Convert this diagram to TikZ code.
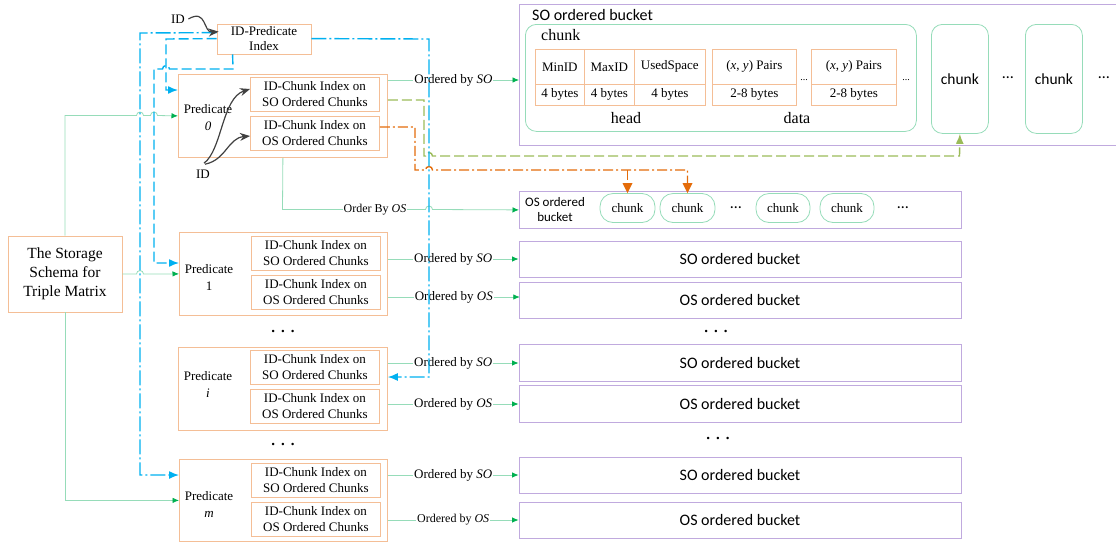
\documentclass[tikz,border=0pt]{standalone}
\usepackage{fontspec}
\setmainfont{Liberation Serif}
\newfontfamily\calibri{Carlito}
\usetikzlibrary{arrows.meta,calc}
\definecolor{obord}{RGB}{244,190,150}
\definecolor{pbord}{RGB}{192,170,222}
\definecolor{glc}{RGB}{150,220,185}
\definecolor{ghead}{RGB}{0,176,80}
\definecolor{blc}{RGB}{0,176,240}
\definecolor{olv}{RGB}{155,187,89}
\definecolor{orng}{RGB}{228,108,10}
\definecolor{dk}{RGB}{64,64,64}
\begin{document}
\begin{tikzpicture}[x=1pt,y=-1pt,font=\fontsize{13}{16}\selectfont]
\tikzset{
 obox/.style={draw=obord, line width=0.8pt, inner sep=0pt, align=center},
 cell/.style={draw=obord, line width=0.7pt, inner sep=0pt, anchor=north west, align=center},
 pbox/.style={draw=pbord, line width=0.8pt, inner sep=0pt, align=center, font=\calibri\fontsize{16}{19}\selectfont},
 gl/.style={draw=glc, line width=0.8pt},
 garr/.style={gl, -{Latex[length=6.5pt,width=5.5pt,color=ghead]}},
 bld/.style={draw=blc, line width=1.4pt, dash pattern=on 10pt off 4pt},
 bldd/.style={draw=blc, line width=1.4pt, dash pattern=on 15pt off 3pt on 2pt off 3pt},
 barr/.style={-{Latex[length=10pt,width=8pt]}},
 lbl/.style={fill=white, inner sep=1pt},
 olvd/.style={draw=olv, line width=1.4pt, dash pattern=on 10pt off 4pt, -{Latex[length=10pt,width=8pt]}},
 orgd/.style={draw=orng, line width=1.4pt, dash pattern=on 10pt off 3pt on 2pt off 3pt},
 idarr/.style={draw=dk, line width=1.2pt, -{Stealth[length=10pt,width=8pt]}},
 pill/.style={draw=glc, line width=0.8pt, rounded corners=13pt, minimum height=29pt, inner sep=0pt},
 chk/.style={draw=glc, line width=0.8pt, rounded corners=11pt, minimum width=57pt, minimum height=109pt, anchor=north west, inner sep=0pt, font=\calibri\fontsize{15.5}{18}\selectfont},
 dots/.style={font=\bfseries\fontsize{15}{18}\selectfont},
 sdots/.style={font=\calibri\fontsize{16}{18}\selectfont},
}
\useasboundingbox (0,0) rectangle (1116,542);

% ---------- left part ----------
\node[obox, minimum width=114pt, minimum height=76pt, font=\fontsize{15.5}{19}\selectfont] (store) at (65,274) {The Storage\\Schema for\\Triple Matrix};
\node[obox, minimum width=94pt, minimum height=30pt, font=\fontsize{13}{15}\selectfont] (idp) at (264,39) {ID-Predicate\\Index};

% predicate 0
\node[obox, minimum width=209pt, minimum height=83pt, anchor=north west] (p0) at (178,74) {};
\node[obox, minimum width=129pt, minimum height=34pt, anchor=north west] (p0so) at (250,77) {ID-Chunk Index on\\SO Ordered Chunks};
\node[obox, minimum width=129pt, minimum height=34pt, anchor=north west] (p0os) at (250,116) {ID-Chunk Index on\\OS Ordered Chunks};
\node[align=center, font=\fontsize{13}{17}\selectfont] (p0t) at (208,118) {Predicate\\\textit{0}};
% predicate 1
\node[obox, minimum width=208pt, minimum height=83pt, anchor=north west] (p1) at (179,232) {};
\node[obox, minimum width=129pt, minimum height=34pt, anchor=north west] (p1so) at (251,236) {ID-Chunk Index on\\SO Ordered Chunks};
\node[obox, minimum width=129pt, minimum height=34pt, anchor=north west] (p1os) at (251,275) {ID-Chunk Index on\\OS Ordered Chunks};
\node[align=center, font=\fontsize{13}{17}\selectfont] (p1t) at (209,277) {Predicate\\1};
% predicate i
\node[obox, minimum width=209pt, minimum height=83pt, anchor=north west] (pi) at (178,347) {};
\node[obox, minimum width=129pt, minimum height=34pt, anchor=north west] (piso) at (250,350) {ID-Chunk Index on\\SO Ordered Chunks};
\node[obox, minimum width=129pt, minimum height=34pt, anchor=north west] (pios) at (250,389) {ID-Chunk Index on\\OS Ordered Chunks};
\node[align=center, font=\fontsize{13}{17}\selectfont] (pit) at (208,384) {Predicate\\\textit{i}};
% predicate m
\node[obox, minimum width=208pt, minimum height=82pt, anchor=north west] (pm) at (179,459) {};
\node[obox, minimum width=129pt, minimum height=34pt, anchor=north west] (pmso) at (251,463) {ID-Chunk Index on\\SO Ordered Chunks};
\node[obox, minimum width=129pt, minimum height=34pt, anchor=north west] (pmos) at (251,502) {ID-Chunk Index on\\OS Ordered Chunks};
\node[align=center, font=\fontsize{13}{17}\selectfont] (pmt) at (209,504) {Predicate\\\textit{m}};

\node[dots] (dl1) at (283,331) {.\hspace{6pt}.\hspace{6pt}.};
\node[dots] (dl2) at (283,444) {.\hspace{6pt}.\hspace{6pt}.};

% ---------- right part ----------
\node[draw=pbord, line width=0.8pt, minimum width=601pt, minimum height=141pt, anchor=north west, inner sep=0pt] (sob) at (519,4) {};
\node[anchor=west, inner sep=0pt, font=\calibri\fontsize{16}{19}\selectfont] (sobt) at (532,15) {SO ordered bucket};
\node[draw=glc, line width=0.8pt, rounded corners=11pt, minimum width=391pt, minimum height=107pt, anchor=north west, inner sep=0pt] (bigc) at (525,24) {};
\node[anchor=west, inner sep=0pt, font=\fontsize{16}{19}\selectfont] (bigct) at (541,35) {chunk};
\node[cell, minimum width=49pt, minimum height=35pt] (c1) at (535,49) {MinID};
\node[cell, minimum width=50pt, minimum height=35pt] (c2) at (584,49) {MaxID};
\node[cell, minimum width=71pt, minimum height=35pt] (c3) at (634,49) {UsedSpace};
\node[cell, minimum width=49pt, minimum height=21pt] (c4) at (535,84) {4 bytes};
\node[cell, minimum width=50pt, minimum height=21pt] (c5) at (584,84) {4 bytes};
\node[cell, minimum width=71pt, minimum height=21pt] (c6) at (634,84) {4 bytes};
\node[cell, minimum width=84pt, minimum height=35pt] (d1) at (712,49) {(\textit{x}, \textit{y}) Pairs};
\node[cell, minimum width=84pt, minimum height=21pt] (d2) at (712,84) {2-8 bytes};
\node[cell, minimum width=85pt, minimum height=35pt] (d3) at (811,49) {(\textit{x}, \textit{y}) Pairs};
\node[cell, minimum width=85pt, minimum height=21pt] (d4) at (811,84) {2-8 bytes};
\node[font=\fontsize{10}{12}\selectfont, inner sep=0pt] (sd1) at (804,80) {...};
\node[font=\fontsize{10}{12}\selectfont, inner sep=0pt] (sd2) at (906,80) {...};
\node[font=\fontsize{16}{19}\selectfont] (headt) at (626,118) {head};
\node[font=\fontsize{16}{19}\selectfont] (datat) at (797,118) {data};
\node[chk] (ch1) at (931,24) {chunk};
\node[chk] (ch2) at (1025,24) {chunk};
\node[sdots] (td1) at (1008,78) {…};
\node[sdots] (td2) at (1104,78) {…};

\node[draw=pbord, line width=0.8pt, minimum width=442pt, minimum height=37pt, anchor=north west, inner sep=0pt] (osb) at (519,191) {};
\node[align=center, font=\calibri\fontsize{13}{15}\selectfont] (osbt) at (555,210) {OS ordered\\bucket};
\node[pill, minimum width=55pt] (k1) at (627.5,208) {chunk};
\node[pill, minimum width=55pt] (k2) at (687.5,208) {chunk};
\node[pill, minimum width=54pt] (k3) at (783,208) {chunk};
\node[pill, minimum width=54pt] (k4) at (847,208) {chunk};
\node[sdots] (od1) at (736,208) {…};
\node[sdots] (od2) at (903,208) {…};

\node[pbox, minimum width=442pt, minimum height=36pt] (r1so) at (740,259) {SO ordered bucket};
\node[pbox, minimum width=442pt, minimum height=36pt] (r1os) at (740,300) {OS ordered bucket};
\node[pbox, minimum width=442pt, minimum height=37pt] (r2so) at (740,363) {SO ordered bucket};
\node[pbox, minimum width=442pt, minimum height=37pt] (r2os) at (740,404) {OS ordered bucket};
\node[pbox, minimum width=442pt, minimum height=36pt] (r3so) at (740,475) {SO ordered bucket};
\node[pbox, minimum width=442pt, minimum height=36pt] (r3os) at (740,520) {OS ordered bucket};
\node[dots] (dr1) at (716,331) {.\hspace{6pt}.\hspace{6pt}.};
\node[dots] (dr2) at (718,438) {.\hspace{6pt}.\hspace{6pt}.};

% ---------- green connectors ----------
\draw[garr] (store.north) -- (65,115.5) -- (136.5,115.5) arc[start angle=180,end angle=360,radius=3.5] -- (150.5,115.5) arc[start angle=180,end angle=360,radius=3.5] -- (p0.west);
\draw[garr] (store.east) -- (136.5,274) arc[start angle=180,end angle=360,radius=3.5] -- (p1.west);
\draw[garr] (store.south) |- (pm.west);

\coordinate (a0) at ($(p0.north east)+(0,6)$);
\draw[garr] (a0) -- node[lbl] (l0so) {Ordered by \textit{SO}} (a0 -| sob.west);
\draw[garr] (p0.south) -- (282.5,209.5) -- (425.5,209.5) arc[start angle=180,end angle=360,radius=3.5] -- (osb.west);
\node[lbl, font=\fontsize{12}{14}\selectfont] (l0os) at (375,209.5) {Order By \textit{OS}};

\draw[garr] (p1.east |- r1so.west) -- node[lbl] (l1so) {Ordered by \textit{SO}} (r1so.west);
\draw[garr] ($(p1.north east)+(0,65)$) -- node[lbl] (l1os) {Ordered by \textit{OS}} ($(p1.north east)+(132,65)$);
\draw[garr] (pi.east |- r2so.west) -- node[lbl] (l2so) {Ordered by \textit{SO}} (r2so.west);
\draw[garr] (pi.east |- r2os.west) -- node[lbl] (l2os) {Ordered by \textit{OS}} (r2os.west);
\draw[garr] (pm.east |- r3so.west) -- node[lbl] (l3so) {Ordered by \textit{SO}} (r3so.west);
\draw[garr] (pm.east |- r3os.west) -- node[lbl, font=\fontsize{12}{14}\selectfont] (l3os) {Ordered by \textit{OS}} (r3os.west);

% ---------- olive / orange ----------
\draw[olvd] ($(p0.north east)+(0,26)$) -- (424,100) -- (424,156) -- (425.5,156) arc[start angle=180,end angle=360,radius=3.5] -- (959.5,156) -- (ch1.south);
\draw[orgd] ($(p0os.north east)+(0,11)$) -- (415,127) -- (415,170) -- (425.5,170) arc[start angle=180,end angle=360,radius=3.5] -- (687.5,170) -- (687.5,184);
\draw[orgd] (627.5,170) -- (627.5,184);
\fill[orng] (k2.north) -- ++(-5,-10) -- ++(10,0) -- cycle;
\fill[orng] (k1.north) -- ++(-5,-10) -- ++(10,0) -- cycle;

% ---------- blue ----------
\draw[bldd, barr] ($(idp.north west)+(0,9)$) -- (140,33) -- (140,475) -- ($(pm.north west)+(0,16)$);
\draw[bld, barr] ($(idp.north west)+(0,15)$) -- (166,39) -- (166,90) -- ($(p0.north west)+(0,16)$);
\draw[bld, barr] ($(idp.south west)+(16,0)$) -- (233,69) -- (169.5,69) arc[start angle=0,end angle=-180,radius=3.5] -- (154,69) -- (154,263) -- ($(p1.north west)+(0,31)$);
\draw[bldd, barr] ($(idp.north east)+(0,15)$) -- (429,39) -- (429,377) -- ($(pi.north east)+(0,30)$);

% ---------- ID arrows ----------
\node (idtop) at (178,19) {ID};
\draw[idarr] (idtop.east) .. controls (207,8) and (203,33) .. ($(idp.north west)+(2,8)$);
\node (idbot) at (203,174) {ID};
\draw[idarr] ($(idbot.north)+(1,-3)$) .. controls (222,150) and (222,98) .. ($(p0so.north west)+(0,12)$);
\draw[idarr] ($(idbot.north)+(2,-2)$) .. controls (226,160) and (228,138) .. ($(p0os.north west)+(0,20)$);
\end{tikzpicture}
\end{document}
